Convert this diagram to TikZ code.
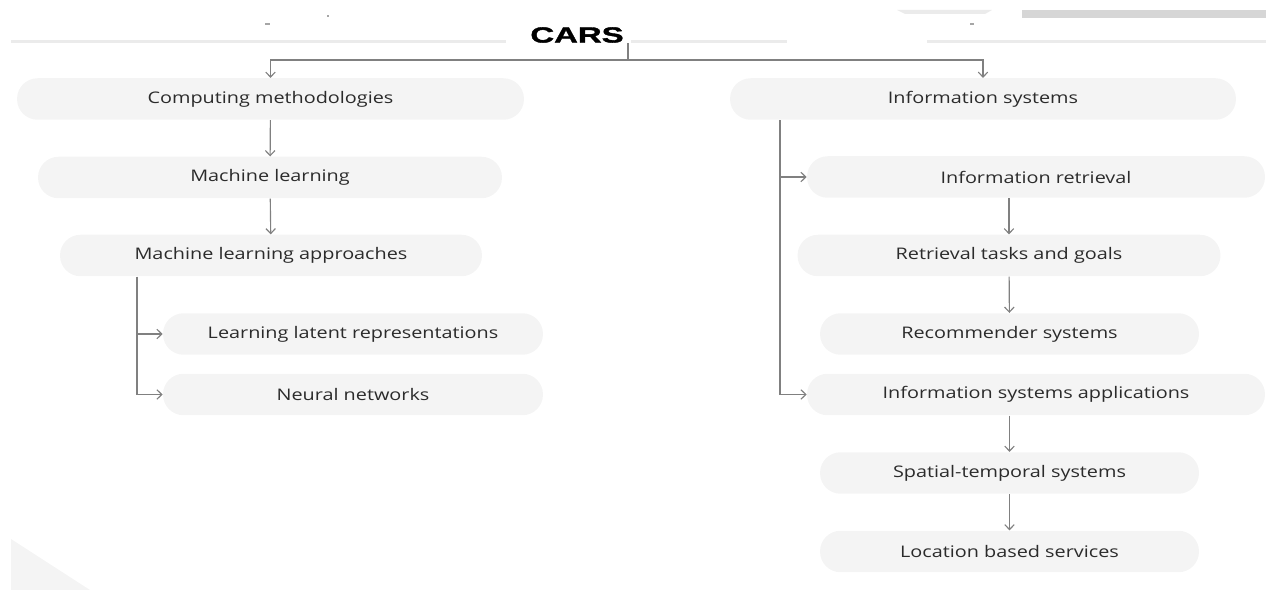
\documentclass[tikz,border=0pt]{standalone}
\usepackage{fontspec}
\usetikzlibrary{arrows.meta}
\newfontfamily\bodyfont{Open Sans}[FakeStretch=1.24]
\newfontfamily\titlefont{Liberation Sans}[FakeStretch=1.5,BoldFeatures={FakeBold=1.6}]
\definecolor{pillgray}{HTML}{F4F4F4}
\definecolor{linegray}{HTML}{808080}
\definecolor{textcol}{HTML}{2B2B2B}
\definecolor{bgline}{HTML}{EBEBEB}
\definecolor{barcol}{HTML}{D6D6D6}
\tikzset{
  pill/.style={fill=pillgray, rounded corners=0.41cm, minimum height=0.83cm,
    inner sep=0pt, text=textcol, font=\bodyfont\fontsize{9.1}{11}\selectfont},
  conn/.style={draw=linegray, line width=0.65pt,
    -{Straight Barb[length=1mm,width=1.9mm]}},
  plainconn/.style={draw=linegray, line width=0.65pt}
}
\begin{document}
\begin{tikzpicture}[x=0.02cm,y=-0.02cm]
\useasboundingbox (0,0) rectangle (1266,590);
% background artefacts
\draw[bgline, line width=0.06cm] (11,42) -- (506,42);
\draw[bgline, line width=0.06cm] (631,42) -- (787,42);
\draw[bgline, line width=0.06cm] (927,42) -- (1266,42);
\fill[barcol] (1022,10) rectangle (1266,18);
\fill[bgline] (897,10) -- (992,10) -- (985,14) -- (905,14) -- cycle;
\fill[linegray!70] (265,23) rectangle (270,25);
\fill[linegray!70] (327,15) rectangle (329,17);
\fill[linegray!70] (970,23) rectangle (974,25);
\fill[pillgray] (11,539) -- (90,590) -- (11,590) -- cycle;
% title
\node[inner sep=0pt, font=\titlefont\bfseries\fontsize{12.5}{14}\selectfont] (cars) at (577,35) {CARS};
\coordinate (j) at (628,60);
% left branch
\node[pill, minimum width=10.14cm] (cm) at (270.5,99) {Computing methodologies};
\node[pill, minimum width=9.28cm] (ml) at (270,177.5) {Machine learning};
\node[pill, minimum width=8.44cm] (mla) at (271,255.5) {Machine learning approaches};
\node[pill, minimum width=7.6cm] (llr) at (353,334) {Learning latent representations};
\node[pill, minimum width=7.6cm] (nn) at (353,394.5) {Neural networks};
% right branch
\node[pill, minimum width=10.12cm] (is) at (983,99) {Information systems};
\node[pill, minimum width=9.16cm] (ir) at (1036,177) {Information retrieval};
\node[pill, minimum width=8.46cm] (rtg) at (1009,255.5) {Retrieval tasks and goals};
\node[pill, minimum width=7.58cm] (rs) at (1009.5,334) {Recommender systems};
\node[pill, minimum width=9.16cm] (isa) at (1036,394.5) {Information systems applications};
\node[pill, minimum width=7.58cm] (sts) at (1009.5,473) {Spatial-temporal systems};
\node[pill, minimum width=7.58cm] (lbs) at (1009.5,551.5) {Location based services};
% connectors from title
\draw[plainconn] (j |- cars.south) -- (j);
\draw[conn] (j) -| (cm.north);
\draw[conn] (j) -| (is.north);
% left connectors
\draw[conn] (cm) -- (ml);
\draw[conn] (ml) -- (mla);
\coordinate (lt) at (137,0);
\draw[conn] (lt |- mla.south) |- (nn.west);
\draw[conn] (lt |- llr.west) -- (llr.west);
% right connectors
\coordinate (rt) at (780,0);
\draw[conn] (rt |- is.south) |- (isa.west);
\draw[conn] (rt |- ir.west) -- (ir.west);
\draw[conn] (rtg.north |- ir.south) -- (rtg.north);
\draw[conn] (rtg) -- (rs);
\draw[conn] (sts.north |- isa.south) -- (sts.north);
\draw[conn] (sts) -- (lbs);
\end{tikzpicture}
\end{document}
